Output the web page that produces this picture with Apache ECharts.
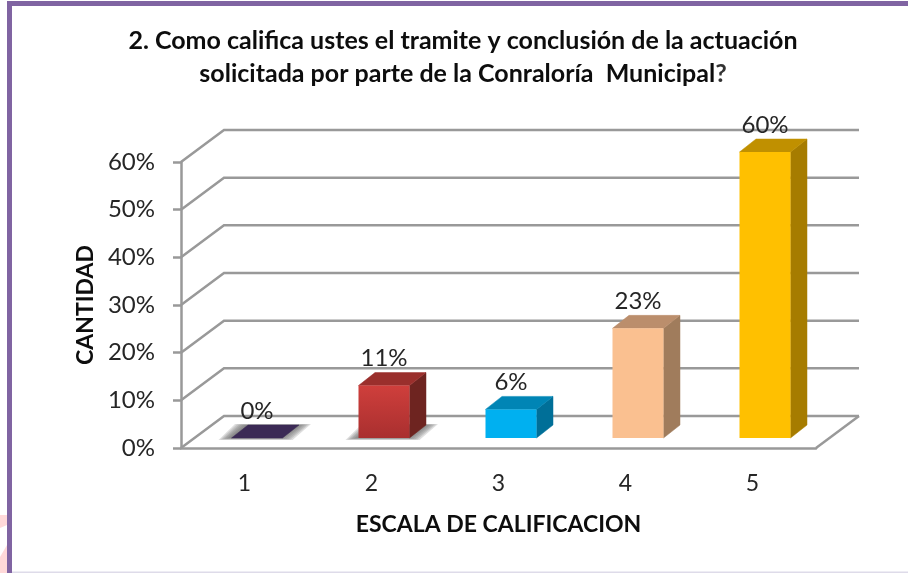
<!DOCTYPE html>
<html><head><meta charset="utf-8">
<style>html,body{margin:0;padding:0;background:#fff}#c{width:908px;height:573px}</style>
<script src="https://cdn.jsdelivr.net/npm/echarts@6/dist/echarts.min.js"></script>
</head><body><div id="c"></div>
<script>
const categories = ['1','2','3','4','5'];
const values = [0, 0.11, 0.06, 0.23, 0.60];
const valueLabels = ['0%','11%','6%','23%','60%'];
const gridTicks = [0,0.1,0.2,0.3,0.4,0.5,0.6];
const titleLine1 = '2. Como califica ustes el tramite y conclusión de la actuación';
const titleLine2 = 'solicitada por parte de la Conraloría  Municipal';
const titleEnd = '?';
const yName = 'CANTIDAD';
const xName = 'ESCALA DE CALIFICACION';

const palette = [
  {top:['#3b2a55','#3b2a55'], front:'#3b2a55', roof:'#3b2a55', side:'#3b2a55', shadow:true},
  {top:['#cf3f3c','#a92f2f'], front:'#c0393a', roof:'#9a2f2c', side:'#6e2420', shadow:true},
  {top:['#00b0f0','#00b0f0'], front:'#00b0f0', roof:'#0085b5', side:'#006f98', shadow:false},
  {top:['#fac090','#fac090'], front:'#fac090', roof:'#bb8e6c', side:'#a07c5c', shadow:false},
  {top:['#ffc000','#ffc000'], front:'#ffc000', roof:'#c09000', side:'#a67c00', shadow:false}
];
const FLOOR = [43,-32], BAR_OFFSET = [12.5,-10], BAR_DEPTH = [16.5,-13], BAR_W = 51;
const SHADOW_SPREADS = [10,8,6,4,2,0];
const GRID_COL = '#999999';
const FONT = 'Lato, "Open Sans", sans-serif';

function renderWalls(params, api){
  const cs = params.coordSys, v = api.value(0), y = api.coord([0,v])[1];
  const x0 = cs.x, x1 = cs.x + cs.width;
  const pts = [[x0,y],[x0+FLOOR[0],y+FLOOR[1]],[x1+FLOOR[0],y+FLOOR[1]]];
  const children = [{type:'polyline',shape:{points:pts},
    style:{stroke:GRID_COL,lineWidth:2.5,fill:null}}];
  if(v===0){
    children.push({type:'polyline',shape:{points:[[x1,y],[x1+FLOOR[0],y+FLOOR[1]]]},
      style:{stroke:GRID_COL,lineWidth:2.5,fill:null}});
  }
  return {type:'group',children};
}

function poly(points, fill){
  return {type:'polygon',shape:{points},style:{fill,stroke:fill,lineWidth:0.5,lineJoin:'round'}};
}

function renderBar(params, api){
  const i = api.value(0), v = api.value(1), p = palette[i];
  const c0 = api.coord([i,0]), c1 = api.coord([i,v]);
  const L = c0[0]+BAR_OFFSET[0]-BAR_W/2, R = L+BAR_W;
  const B = c0[1]+BAR_OFFSET[1], T = c1[1]+BAR_OFFSET[1];
  const dx = BAR_DEPTH[0], dy = BAR_DEPTH[1];
  const ch = [];
  if(p.shadow){
    SHADOW_SPREADS.forEach(s=>{
      ch.push({type:'polygon',shape:{points:[
        [L-s-3,B+s*0.2],[R+s,B+s*0.2],[R+dx+s+2,B+dy-s*0.1],[L+dx-s-3,B+dy-s*0.1]]},
        style:{fill:'rgba(110,110,110,0.22)'}});
    });
  }
  if(v>0){
    ch.push(poly([[R,B],[R+dx,B+dy],[R+dx,T+dy],[R,T]],p.side));
    ch.push(poly([[L,T],[R,T],[R+dx,T+dy],[L+dx,T+dy]],p.roof));
    ch.push({type:'rect',shape:{x:L,y:T,width:BAR_W,height:B-T},
      style:{fill:{type:'linear',x:0,y:0,x2:0,y2:1,colorStops:[{offset:0,color:p.top[0]},{offset:1,color:p.top[1]}]}}});
  } else {
    ch.push(poly([[L,B],[R,B],[R+dx,B+dy],[L+dx,B+dy]],p.front));
  }
  ch.push({type:'text',z2:5,style:{text:valueLabels[i],x:(L+R)/2,y:T-27,align:'center',verticalAlign:'middle',
    fill:'#262626',font:'24px '+FONT}});
  return {type:'group',children:ch};
}

const chart = echarts.init(document.getElementById('c'),null,{renderer:'canvas'});
chart.setOption({
  animation:false,
  backgroundColor:'#ffffff',
  title:{
    text:'{b|'+titleLine1+'}\n{b|'+titleLine2+'}{n|'+titleEnd+'}',
    left:458, top:19, textAlign:'center',
    textStyle:{rich:{
      b:{fontFamily:FONT,fontSize:25,fontWeight:'bold',color:'#0d0d0d',lineHeight:33},
      n:{fontFamily:FONT,fontSize:25,color:'#333',lineHeight:33}
    }}
  },
  grid:{left:181,right:92,top:162,bottom:125},
  xAxis:{type:'category',data:categories,
    axisLine:{show:true,lineStyle:{color:GRID_COL,width:2.5}},axisTick:{show:false},
    axisLabel:{margin:24,fontSize:23,fontFamily:FONT,color:'#262626'},
    name:xName,nameLocation:'middle',nameGap:65,
    nameTextStyle:{fontFamily:FONT,fontSize:23,fontWeight:'bold',color:'#0d0d0d'}},
  yAxis:{type:'value',min:0,max:0.6,interval:0.1,
    axisLine:{show:true,lineStyle:{color:GRID_COL,width:2.5}},
    axisTick:{show:true,length:8,lineStyle:{color:GRID_COL,width:2.5}},
    splitLine:{show:false},
    axisLabel:{margin:26,fontSize:24,fontFamily:FONT,color:'#262626',padding:[5,0,0,0],formatter:v=>Math.round(v*100)+'%'},
    name:yName,nameLocation:'middle',nameGap:83,
    nameTextStyle:{fontFamily:FONT,fontSize:23,fontWeight:'bold',color:'#0d0d0d'}},
  series:[
    {type:'custom',coordinateSystem:'cartesian2d',clip:false,z:1,silent:true,
     data:gridTicks.map(v=>[v]),encode:{y:0},renderItem:renderWalls},
    {type:'custom',coordinateSystem:'cartesian2d',clip:false,z:3,silent:true,
     data:values.map((v,i)=>[i,v]),encode:{x:0,y:1},renderItem:renderBar}
  ],
  graphic:[
    {type:'polygon',z:-1,shape:{points:[[0,515],[7,515],[7,525],[0,528]]},style:{fill:'#ffd9d9'}},
    {type:'polygon',z:-1,shape:{points:[[0,557],[7,545],[7,573],[0,573]]},style:{fill:'#ffd9d9'}},
    {type:'rect',z:10,shape:{x:7,y:1,width:5,height:572},style:{fill:'#8064a2'}},
    {type:'rect',z:10,shape:{x:7,y:1,width:901,height:5,r:[3,0,0,0]},style:{fill:'#8064a2'}},
    {type:'rect',z:10,shape:{x:12,y:571.5,width:896,height:1.5},style:{fill:'#dedbe9'}}
  ]
});
</script></body></html>
